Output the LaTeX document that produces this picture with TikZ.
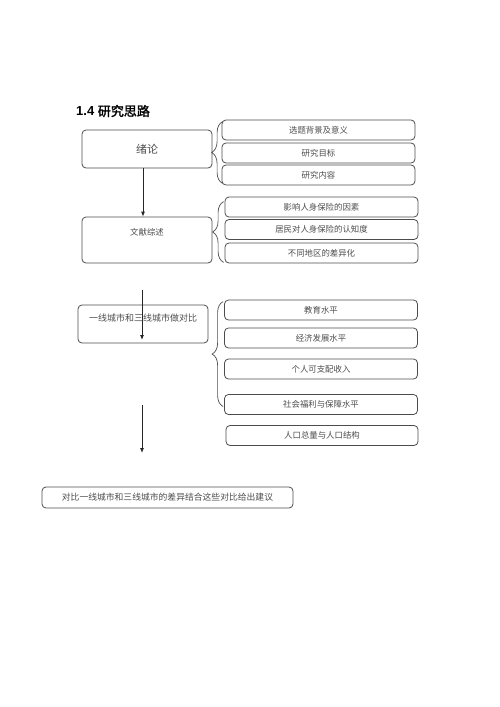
\documentclass[tikz,border=0pt]{standalone}
\usepackage{fontspec}
\setmainfont{Liberation Sans}
\newfontfamily\cjk[AutoFakeBold=2]{Noto Sans CJK SC}
\usetikzlibrary{arrows.meta, positioning, decorations.pathreplacing}

\begin{document}
\begin{tikzpicture}[x=1pt, y=-1pt,
    box/.style={draw=black!70, line width=0.8pt, rounded corners=4pt, inner sep=0pt,
      text=black!70, font=\cjk\fontsize{8.4}{9}\selectfont},
    sidebox/.style={box, minimum width=193pt, minimum height=20pt},
    mainbox/.style={box, minimum width=130pt},
    flow/.style={-{Latex[length=5pt, width=4pt]}, line width=0.8pt, black!85},
    curly/.style={draw=black!70, line width=0.7pt, decorate,
      decoration={brace, amplitude=11pt}}]
    \useasboundingbox (0,0) rectangle (500,707);

    % Title
    \node[anchor=west, inner sep=0pt, font=\fontsize{13}{13}\selectfont] (title) at (76,111)
      {\bfseries 1.4 {\cjk\bfseries 研究思路}};

    % Left column
    \node[mainbox, minimum height=38pt, font=\cjk\fontsize{11}{11}\selectfont] (xulun) at (147,149) {绪论};
    \node[mainbox, minimum height=46pt, text depth=17pt] (wenxian) at (147,240) {文献综述};
    \node[mainbox, minimum height=38pt, text depth=12pt, font=\cjk\fontsize{9}{9}\selectfont] (duibi) at (143,324) {一线城市和三线城市做对比};
    \node[box, minimum width=251pt, minimum height=21pt, font=\cjk\fontsize{8.8}{9}\selectfont] (jianyi) at (167.5,497.5)
      {对比一线城市和三线城市的差异结合这些对比给出建议};

    % Group 1
    \node[sidebox] (b11) at (318.5,130) {选题背景及意义};
    \node[sidebox] (b12) at (318.5,153) {研究目标};
    \node[sidebox] (b13) at (318.5,175) {研究内容};

    % Group 2
    \node[sidebox] (b21) at (321.5,207) {影响人身保险的因素};
    \node[sidebox] (b22) at (321.5,229.5) {居民对人身保险的认知度};
    \node[sidebox] (b23) at (321.5,253) {不同地区的差异化};

    % Group 3
    \node[sidebox] (b31) at (321,310) {教育水平};
    \node[sidebox] (b32) at (321,338) {经济发展水平};
    \node[sidebox] (b33) at (321,369) {个人可支配收入};
    \node[sidebox] (b34) at (321,404.5) {社会福利与保障水平};
    \node[sidebox, minimum width=192pt] (b35) at (322,435.5) {人口总量与人口结构};

    % Braces
    \draw[curly] ([shift={(1,-2)}]b13.south west) -- ([shift={(1,2)}]b11.north west);
    \draw[curly] ([shift={(-1,-1)}]b23.south west) -- ([shift={(-1,5)}]b21.north west);
    \draw[curly] ([shift={(-1,2)}]b34.west) -- ([shift={(-1,2)}]b31.north west);

    % Arrows
    \coordinate (a2s) at (142,290);
    \coordinate (a2e) at (142,340);
    \coordinate (a3s) at (142,405);
    \coordinate (a3e) at (142,453);
    \draw[flow] ([xshift=-4pt]xulun.south) -- ([xshift=-4pt]wenxian.north);
    \draw[flow] (a2s) -- (a2e);
    \draw[flow] (a3s) -- (a3e);
\end{tikzpicture}
\end{document}
